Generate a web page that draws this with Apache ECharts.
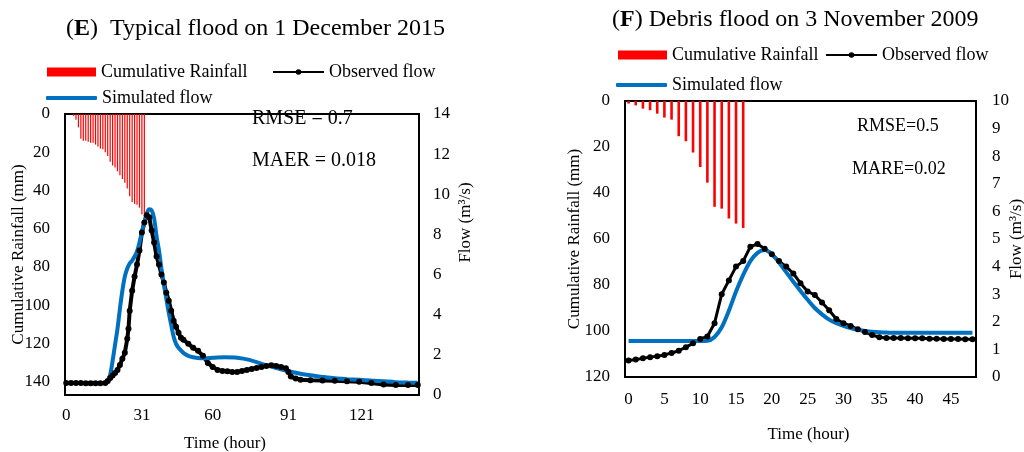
<!DOCTYPE html>
<html><head><meta charset="utf-8">
<script src="https://cdn.jsdelivr.net/npm/echarts@6/dist/echarts.min.js"></script>
<style>html,body{margin:0;padding:0;background:#fff}#c{width:1024px;height:452px}</style>
</head><body><div id="c"></div>
<script>
// ---------- Panel E: Typical flood on 1 December 2015 ----------
const xTicksE = [0, 31, 60, 91, 121];
const rainHoursE = [3,4,5,6,7,8,9,10,11,12,13,14,15,16,17,18,19,20,21,22,23,24,25,26,27,28,29,30,31,32];
const rainE = [1,3,7,13,14,14,14.5,15,15,16,17,18,18.5,20,22,25,27,28,30,32,34,36,39,43,46,47,47.5,49,52.5,53.5];
const obsHoursE = [0,2,4,6,8,10,12,14,16,17,18,19,20,21,22,23,24,25,25.5,26,27,28,29,30,31,32,33,34,35,36,37,38,39,40,41,42,43,44,45,46,47,48,50,52,54,56,58,60,62,64,66,68,70,72,74,76,78,80,82,84,86,88,90,91,92,94,96,100,105,110,115,120,125,130,135,140,144];
const obsFlowE = [0.6,0.6,0.6,0.6,0.59,0.59,0.58,0.58,0.6,0.7,0.85,0.97,1.1,1.25,1.5,1.8,2.1,2.8,3.3,4.2,5.2,5.9,6.5,7.2,8.1,8.6,8.95,8.85,8.2,7.6,6.9,6.5,6.0,5.6,5.1,4.7,4.2,3.7,3.4,3.1,2.85,2.75,2.55,2.35,2.2,1.95,1.6,1.4,1.25,1.2,1.18,1.15,1.15,1.2,1.25,1.3,1.35,1.4,1.45,1.48,1.45,1.4,1.33,1.15,0.92,0.82,0.76,0.73,0.72,0.71,0.69,0.66,0.6,0.52,0.5,0.5,0.5];
const simHoursE = [0,10,16,17,18,19,20,21,22,23,24,25,26,27,28,29,30,31,32,33,34,35,36,37,38,39,40,41,42,43,44,45,46,48,50,52,55,60,65,70,75,80,85,90,95,100,105,110,115,120,125,130,135,140,144];
const simFlowE = [0.6,0.6,0.6,0.65,1.0,1.7,2.5,3.3,4.3,5.2,5.9,6.3,6.55,6.7,6.9,7.15,7.6,8.1,8.6,9.05,9.25,9.2,8.8,7.9,7.2,6.3,5.5,4.8,4.1,3.5,2.9,2.55,2.35,2.1,1.95,1.88,1.83,1.85,1.88,1.86,1.75,1.55,1.38,1.22,1.08,0.98,0.9,0.83,0.79,0.76,0.72,0.68,0.64,0.62,0.61];

// ---------- Panel F: Debris flood on 3 November 2009 ----------
const xTicksF = [0,5,10,15,20,25,30,35,40,45];
const hoursF = [0,1,2,3,4,5,6,7,8,9,10,11,12,13,14,15,16,17,18,19,20,21,22,23,24,25,26,27,28,29,30,31,32,33,34,35,36,37,38,39,40,41,42,43,44,45,46,47,48];
const rainHoursF = [0,1,2,3,4,5,6,7,8,9,10,11,12,13,14,15,16];
const rainF = [1.1,1.9,3.3,4,5.5,7.2,8.1,15.3,17.5,22.4,28.7,35.5,46,46.8,51.1,53.3,55.2];
const obsFlowF = [0.6,0.63,0.68,0.72,0.75,0.8,0.87,0.95,1.08,1.22,1.38,1.47,1.95,3.0,3.5,4.0,4.2,4.72,4.82,4.65,4.45,4.2,4.0,3.75,3.4,3.1,2.97,2.7,2.42,2.1,1.95,1.85,1.73,1.63,1.52,1.44,1.41,1.41,1.41,1.4,1.4,1.4,1.39,1.39,1.38,1.38,1.38,1.37,1.37];
const simFlowF = [1.3,1.3,1.3,1.3,1.3,1.3,1.3,1.3,1.3,1.3,1.3,1.31,1.45,1.8,2.4,3.1,3.7,4.2,4.5,4.6,4.45,4.15,3.8,3.45,3.12,2.8,2.5,2.27,2.08,1.95,1.85,1.77,1.71,1.67,1.64,1.62,1.61,1.6,1.6,1.6,1.6,1.6,1.6,1.6,1.6,1.6,1.6,1.6,1.6];

const FONT = '"Liberation Serif", "Times New Roman", serif';
const RED = '#FF0000', BLACK = '#000000', BLUE = '#0070C0';
function pairs(xs, ys) { return xs.map((x, i) => [x, ys[i]]); }
const lab = { fontFamily: FONT, fontSize: 17, color: '#000' };
const legText = { fontFamily: FONT, fontSize: 18, color: '#000' };
const titleStyle = { fontFamily: FONT, fontSize: 24, fontWeight: 'normal', color: '#000',
  rich: { p: { fontFamily: FONT, fontSize: 24, fontWeight: 'normal', color: '#000' },
          b: { fontFamily: FONT, fontSize: 24, fontWeight: 'bold', color: '#000' } } };

const chart = echarts.init(document.getElementById('c'));
const noAxisLine = { axisLine: { show: false }, axisTick: { show: false }, splitLine: { show: false }, nameMoveOverlap: false };

chart.setOption({
  animation: false,
  backgroundColor: '#fff',
  title: [
    { text: '{p|(}{b|E}{p|)  Typical flood on 1 December 2015}', left: 66, top: 17, padding: 0, textStyle: titleStyle },
    { text: '{p|(}{b|F}{p|) Debris flood on 3 November 2009}', left: 612, top: 8, padding: 0, textStyle: titleStyle }
  ],
  legend: [
    { data: [{ name: 'Cumulative Rainfall', icon: 'rect' }], left: 47, top: 63, padding: 0, itemWidth: 49, itemHeight: 9, textStyle: legText },
    { data: ['Observed flow'], left: 272, top: 63, padding: 0, itemWidth: 51, itemHeight: 7, textStyle: legText },
    { data: [{ name: 'Simulated flow', icon: 'roundRect' }], left: 46, top: 89, padding: 0, itemWidth: 51, itemHeight: 4, textStyle: legText },
    { data: [{ name: 'Cumulative Rainfall', icon: 'rect' }], left: 618, top: 46, padding: 0, itemWidth: 49, itemHeight: 9, textStyle: legText },
    { data: ['Observed flow'], left: 825, top: 46, padding: 0, itemWidth: 51, itemHeight: 7, textStyle: legText },
    { data: [{ name: 'Simulated flow', icon: 'roundRect' }], left: 616, top: 76, padding: 0, itemWidth: 51, itemHeight: 4, textStyle: legText }
  ],
  grid: [
    { left: 65, top: 114, width: 354, height: 281, show: true, borderColor: '#000', borderWidth: 2, backgroundColor: 'transparent', containLabel: false, outerBoundsMode: 'none' },
    { left: 625, top: 101, width: 351, height: 276, show: true, borderColor: '#000', borderWidth: 2, backgroundColor: 'transparent', containLabel: false, outerBoundsMode: 'none' }
  ],
  xAxis: [
    Object.assign({ gridIndex: 0, type: 'value', min: -0.5, max: 144.5,
      axisLabel: Object.assign({ customValues: xTicksE, margin: 12 }, lab),
      name: 'Time (hour)', nameLocation: 'middle', nameGap: 40,
      nameTextStyle: Object.assign({ padding: [0, 34, 0, 0] }, lab) }, noAxisLine),
    Object.assign({ gridIndex: 1, type: 'value', min: -0.5, max: 48.5,
      axisLabel: Object.assign({ customValues: xTicksF, margin: 14 }, lab),
      name: 'Time (hour)', nameLocation: 'middle', nameGap: 49,
      nameTextStyle: Object.assign({ padding: [0, 0, 0, 16] }, lab) }, noAxisLine)
  ],
  yAxis: [
    Object.assign({ gridIndex: 0, type: 'value', inverse: true, min: 0, max: 147, interval: 20,
      axisLabel: Object.assign({ margin: 15, formatter: v => (v % 20 === 0 ? String(v) : '') }, lab),
      name: 'Cumulative Rainfall (mm)', nameLocation: 'middle', nameGap: 38, nameRotate: 90, nameTextStyle: lab }, noAxisLine),
    Object.assign({ gridIndex: 0, type: 'value', position: 'right', min: 0, max: 14, interval: 2,
      axisLabel: Object.assign({ margin: 14 }, lab),
      name: 'Flow (m³/s)', nameLocation: 'middle', nameGap: 38, nameRotate: 90,
      nameTextStyle: Object.assign({ padding: [0, 0, 0, 64] }, lab) }, noAxisLine),
    Object.assign({ gridIndex: 1, type: 'value', inverse: true, min: 0, max: 120, interval: 20,
      axisLabel: Object.assign({ margin: 15 }, lab),
      name: 'Cumulative Rainfall (mm)', nameLocation: 'middle', nameGap: 42, nameRotate: 90, nameTextStyle: lab }, noAxisLine),
    Object.assign({ gridIndex: 1, type: 'value', position: 'right', min: 0, max: 10, interval: 1,
      axisLabel: Object.assign({ margin: 16 }, lab),
      name: 'Flow (m³/s)', nameLocation: 'middle', nameGap: 32, nameRotate: 90, nameTextStyle: lab }, noAxisLine)
  ],
  series: [
    { name: 'Cumulative Rainfall', type: 'bar', xAxisIndex: 0, yAxisIndex: 0, barWidth: 1.2,
      itemStyle: { color: RED }, data: pairs(rainHoursE, rainE) },
    { name: 'Observed flow', type: 'line', xAxisIndex: 0, yAxisIndex: 1, symbol: 'circle', symbolSize: 6,
      itemStyle: { color: BLACK }, lineStyle: { color: BLACK, width: 4 }, data: pairs(obsHoursE, obsFlowE) },
    { name: 'Simulated flow', type: 'line', xAxisIndex: 0, yAxisIndex: 1, smooth: 0.3, showSymbol: false, symbol: 'none',
      itemStyle: { color: BLUE }, lineStyle: { color: BLUE, width: 4 }, data: pairs(simHoursE, simFlowE) },
    { name: 'Cumulative Rainfall', type: 'bar', xAxisIndex: 1, yAxisIndex: 2, barWidth: 2.6,
      itemStyle: { color: RED }, data: pairs(rainHoursF, rainF) },
    { name: 'Observed flow', type: 'line', xAxisIndex: 1, yAxisIndex: 3, symbol: 'circle', symbolSize: 6,
      itemStyle: { color: BLACK }, lineStyle: { color: BLACK, width: 3 }, data: pairs(hoursF, obsFlowF) },
    { name: 'Simulated flow', type: 'line', xAxisIndex: 1, yAxisIndex: 3, smooth: 0.3, showSymbol: false, symbol: 'none',
      itemStyle: { color: BLUE }, lineStyle: { color: BLUE, width: 4 }, data: pairs(hoursF, simFlowF) }
  ],
  graphic: [
    { type: 'text', left: 252, top: 109, style: { text: 'RMSE = 0.7', fontFamily: FONT, fontSize: 20, fill: '#000' } },
    { type: 'text', left: 252, top: 151, style: { text: 'MAER = 0.018', fontFamily: FONT, fontSize: 20, fill: '#000' } },
    { type: 'text', left: 857, top: 117, style: { text: 'RMSE=0.5', fontFamily: FONT, fontSize: 18, fill: '#000' } },
    { type: 'text', left: 852, top: 160, style: { text: 'MARE=0.02', fontFamily: FONT, fontSize: 18, fill: '#000' } }
  ]
});
</script></body></html>
